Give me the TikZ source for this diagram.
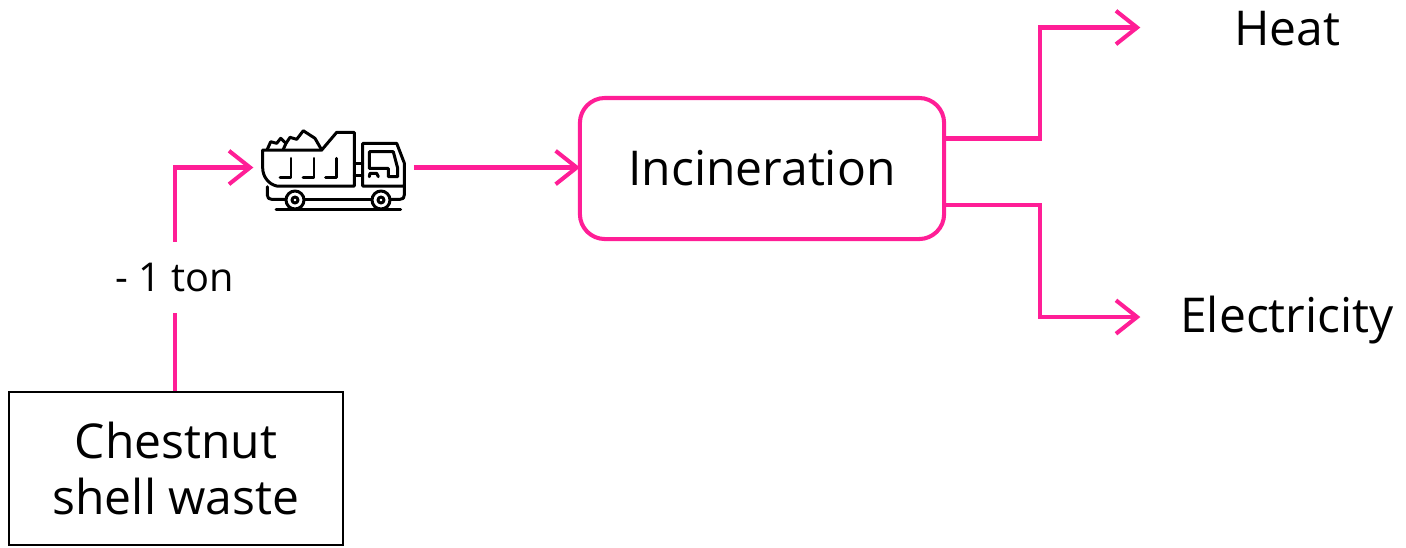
\documentclass[tikz,border=0pt]{standalone}
\usepackage{fontspec}
\setmainfont{Open Sans}
\usetikzlibrary{arrows.meta}
\definecolor{flowpink}{RGB}{255,30,150}
\tikzset{
	flow/.style={draw=flowpink, line width=1.15pt, shorten >=-0.6pt, -{Straight Barb[length=6pt, width=9.5pt, line width=1.15pt]}},
	flowplain/.style={draw=flowpink, line width=1.15pt},
	wastebox/.style={draw=black, line width=0.75pt, minimum width=3.34cm, minimum height=1.53cm, align=center, inner sep=0pt, font=\fontsize{13.65}{16}\selectfont},
	processbox/.style={draw=flowpink, line width=1.15pt, rounded corners=0.25cm, minimum width=3.64cm, minimum height=1.41cm, inner sep=0pt, font=\fontsize{13.65}{16}\selectfont},
	outlabel/.style={minimum width=2.96cm, inner sep=0pt, font=\fontsize{13.65}{16}\selectfont},
	iconline/.style={line width=0.85pt, line join=round, line cap=round}
}

\begin{document}
\begin{tikzpicture}[x=0.01cm, y=-0.01cm]
	\useasboundingbox (0,0) rectangle (1406,547);

	% Boxes and labels
	\node[wastebox] (waste) at (176,468.5) {Chestnut\\shell waste};
	\node[inner sep=0pt, minimum height=0.7cm, font=\fontsize{11.3}{13}\selectfont] (amount) at (175,277.5) {- 1 ton};
	\node[inner sep=0pt, minimum width=1.61cm, minimum height=0.8cm] (truck) at (332.5,167.5) {};
	\node[processbox] (incin) at (762,168.5) {Incineration};
	\node[outlabel] (heat) at (1287,29) {Heat};
	\node[outlabel] (elec) at (1287,320) {Electricity};

	% Connectors
	\draw[flowplain] (waste.north -| amount.south) -- (amount.south);
	\draw[flow] (amount.north) |- (truck.west);
	\draw[flow] (truck.east) -- (truck.east -| incin.west);
	\draw[flow] ([yshift=0.3cm]incin.east) -- ++(94,0) |- ([yshift=0.015cm]heat.west);
	\draw[flow] ([yshift=-0.36cm]incin.east) -- ++(94,0) |- ([yshift=0.03cm]elec.west);

	% Truck icon
	\begin{scope}[iconline]
		% dump body
		\draw (262.7,150) -- (321.7,150) -- (336.7,132.3) -- (354.3,132.3) -- (354.3,186) -- (276.7,186)
			.. controls (268,184) and (262.7,176) .. (262.7,168) -- cycle;
		% waste
		\draw (267.3,149.3) -- (270.7,141.7) -- (276.7,143.3) -- (280.7,138.3) -- (286,143.3) -- (283.3,149.3);
		\draw (286,143.3) -- (290,137.3) -- (296.7,139.3) -- (303.3,130.7) -- (315,138.3) -- (321.7,150);
		% marks on the body
		\foreach \markx in {291,314,336.7}
			\draw (\markx,158.3) -- (\markx,177.7) -- (\markx-11,177.7);
		% cab
		\draw (354.3,163) -- (362.7,163);
		\draw (354.3,175) -- (362.7,175);
		\draw (362.7,186) -- (362.7,143.3) -- (396.7,143.3) -- (404.3,163) -- (404.3,186) -- cycle;
		\draw (369.3,151.7) -- (393.3,151.7) -- (397.7,168.3) -- (397.7,176.7) -- (388.3,176.7) -- (388.3,168.3) -- (369.3,168.3) -- cycle;
		\draw (369.3,176.7) -- (370,173.3) -- (376.7,173.3) -- (378.3,176.7);
		% chassis
		\draw (267.3,186.7) -- (267.3,195) .. controls (267.3,198) and (269,199.3) .. (271.7,199.3) -- (285,199.3);
		\draw (305,199.3) -- (371,199.3);
		\draw (391,199.3) -- (400,199.3) .. controls (403,199.3) and (404.3,198) .. (404.3,195) -- (404.3,186);
		% wheels
		\foreach \wheelx in {295,381} {
			\draw (\wheelx,200) circle (0.09cm);
			\draw (\wheelx,200) circle (0.03cm);
		}
		% ground
		\draw (276,209) -- (400.7,209);
	\end{scope}
\end{tikzpicture}
\end{document}
